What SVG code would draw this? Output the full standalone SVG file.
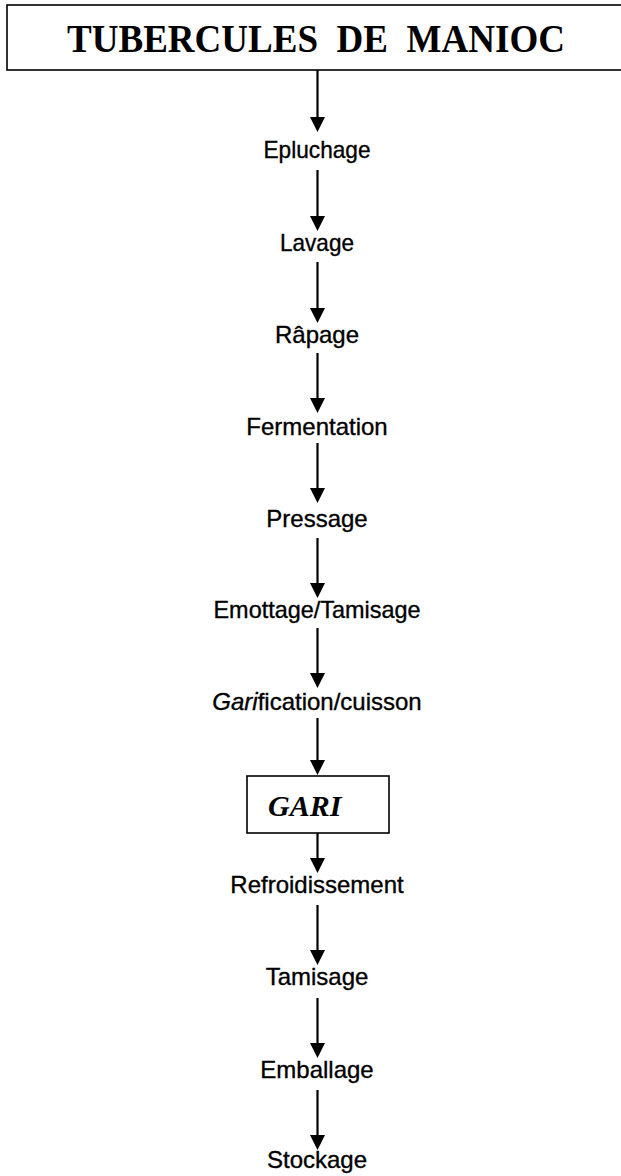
<svg xmlns="http://www.w3.org/2000/svg" width="621" height="1176" viewBox="0 0 621 1176">
<style>
.box{fill:#fff;stroke:#000;stroke-width:1.6}
.step{font-family:"Liberation Sans",Arial,sans-serif;font-size:24px;fill:#000;stroke:#000;stroke-width:0.35;text-anchor:middle}
.title{font-family:"Liberation Serif","Times New Roman",serif;font-size:40px;font-weight:bold;fill:#000;white-space:pre}
.gari{font-family:"Liberation Serif","Times New Roman",serif;font-size:30px;font-weight:bold;font-style:italic;fill:#000}
.edge{stroke:#000;stroke-width:2.2;fill:none}
.head{fill:#000}
</style>
<defs>
<polygon id="ah" class="head" points="-7.5,-15 7.5,-15 0,0"/>
</defs>
<rect width="621" height="1176" fill="#fff"/>
<g id="node-tubercules">
<rect class="box" x="7" y="5" width="640" height="65"/>
<text class="title" x="67" y="52" textLength="498" lengthAdjust="spacingAndGlyphs" xml:space="preserve">TUBERCULES  DE  MANIOC</text>
</g>
<g id="node-epluchage"><text class="step" x="317" y="158" textLength="107" lengthAdjust="spacingAndGlyphs">Epluchage</text></g>
<g id="node-lavage"><text class="step" x="317" y="251" textLength="74" lengthAdjust="spacingAndGlyphs">Lavage</text></g>
<g id="node-rapage"><text class="step" x="317" y="343">Râpage</text></g>
<g id="node-fermentation"><text class="step" x="317" y="435">Fermentation</text></g>
<g id="node-pressage"><text class="step" x="317" y="527">Pressage</text></g>
<g id="node-emottage"><text class="step" x="317" y="618" textLength="207" lengthAdjust="spacingAndGlyphs">Emottage/Tamisage</text></g>
<g id="node-garification"><text class="step" x="317" y="710"><tspan font-style="italic">Gari</tspan>fication/cuisson</text></g>
<g id="node-gari">
<rect class="box" x="247" y="776" width="142" height="57"/>
<text class="gari" x="268" y="816">GARI</text>
</g>
<g id="node-refroidissement"><text class="step" x="317" y="893">Refroidissement</text></g>
<g id="node-tamisage"><text class="step" x="317" y="985">Tamisage</text></g>
<g id="node-emballage"><text class="step" x="317" y="1078">Emballage</text></g>
<g id="node-stockage"><text class="step" x="317" y="1168">Stockage</text></g>
<g id="connectors">
<line class="edge" x1="317.5" y1="70" x2="317.5" y2="120"/><use href="#ah" x="317.5" y="132"/>
<line class="edge" x1="317.5" y1="170" x2="317.5" y2="219"/><use href="#ah" x="317.5" y="231"/>
<line class="edge" x1="317.5" y1="262" x2="317.5" y2="311"/><use href="#ah" x="317.5" y="323"/>
<line class="edge" x1="317.5" y1="353" x2="317.5" y2="401"/><use href="#ah" x="317.5" y="413"/>
<line class="edge" x1="317.5" y1="443" x2="317.5" y2="491"/><use href="#ah" x="317.5" y="503"/>
<line class="edge" x1="317.5" y1="538" x2="317.5" y2="586"/><use href="#ah" x="317.5" y="598"/>
<line class="edge" x1="317.5" y1="628" x2="317.5" y2="676"/><use href="#ah" x="317.5" y="688"/>
<line class="edge" x1="317.5" y1="718" x2="317.5" y2="763"/><use href="#ah" x="317.5" y="775"/>
<line class="edge" x1="317.5" y1="833" x2="317.5" y2="861"/><use href="#ah" x="317.5" y="873"/>
<line class="edge" x1="317.5" y1="905" x2="317.5" y2="953"/><use href="#ah" x="317.5" y="965"/>
<line class="edge" x1="317.5" y1="998" x2="317.5" y2="1046"/><use href="#ah" x="317.5" y="1058"/>
<line class="edge" x1="317.5" y1="1090" x2="317.5" y2="1138"/><use href="#ah" x="317.5" y="1150"/>
</g>
</svg>
